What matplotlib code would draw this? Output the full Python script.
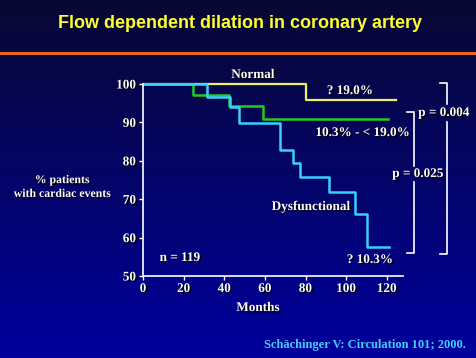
import numpy as np
import matplotlib
matplotlib.use("Agg")
import matplotlib.pyplot as plt
import matplotlib.patheffects as pe
from matplotlib.lines import Line2D

# Kaplan-Meier type curves (months, % event free)
normal_t = [0, 80, 124.6]
normal_s = [100, 95.8, 95.8]

mid_t = [0, 24.6, 42.4, 59, 120.7]
mid_s = [100, 97.1, 94.3, 90.9, 90.9]

dys_t = [0, 31.5, 43, 47.3, 67.5, 74, 77.3, 91.7, 104.4, 110.5, 121]
dys_s = [100, 96.6, 94.1, 89.8, 82.8, 79.5, 75.7, 71.9, 66.2, 57.6, 57.6]

x_ticks = [0, 20, 40, 60, 80, 100, 120]
y_ticks = [50, 60, 70, 80, 90, 100]

W, H = 477, 358
fig = plt.figure(figsize=(W / 100, H / 100), dpi=100)


def px(x, y):
    """pixel -> figure fraction"""
    return x / W, 1 - y / H


# background gradient
bg = fig.add_axes([0, 0, 1, 1])
grad = np.linspace(0, 1, 256).reshape(-1, 1)
top = np.array([0.03, 0.03, 0.2])
bot = np.array([0.0, 0.0, 0.62])
img = top + (bot - top) * grad[:, :, None]
bg.imshow(img, aspect="auto", extent=[0, 1, 0, 1])
bg.axis("off")

# orange rule under title
fig.add_artist(Line2D([0, 1], [1 - 53 / H] * 2, color="#e8641e", lw=2.2))

fig.text(*px(240, 24), "Flow dependent dilation in coronary artery",
         ha="center", va="center", color="#ffff33", fontsize=13,
         fontweight="bold", family="Liberation Sans")

shadow = [pe.withSimplePatchShadow(offset=(1, -1), shadow_rgbFace="black", alpha=0.9)]
serif = dict(family="Liberation Serif", fontweight="bold", color="white",
             path_effects=shadow)

ax = fig.add_axes([143 / W, 1 - 276 / H, 260 / W, 192 / H])
ax.set_facecolor("none")
ax.set_xlim(0, 128)
ax.set_ylim(50, 100)
for s in ["top", "right"]:
    ax.spines[s].set_visible(False)
for s in ["left", "bottom"]:
    ax.spines[s].set_color("white")
    ax.spines[s].set_linewidth(1.2)
ax.set_xticks(x_ticks)
ax.set_yticks(y_ticks)
ax.tick_params(colors="white", length=3, width=1, pad=2)
for lab in ax.get_xticklabels() + ax.get_yticklabels():
    lab.set_fontsize(9.5)
    lab.set_fontfamily("Liberation Serif")
    lab.set_fontweight("bold")
    lab.set_path_effects(shadow)

ax.step(normal_t, normal_s, where="post", color="#f0f060", lw=1.6, clip_on=False)
ax.step(mid_t, mid_s, where="post", color="#22cc22", lw=1.8, clip_on=False)
ax.step(dys_t, dys_s, where="post", color="#38d0ff", lw=1.8, clip_on=False)

fig.text(*px(253, 75), "Normal", ha="center", va="center", fontsize=9.5, **serif)
fig.text(*px(350, 91), "? 19.0%", ha="center", va="center", fontsize=9.5, **serif)
fig.text(*px(363, 133), "10.3% - < 19.0%", ha="center", va="center", fontsize=9.5, **serif)
fig.text(*px(311, 207), "Dysfunctional", ha="center", va="center", fontsize=9.5, **serif)
fig.text(*px(370, 260), "? 10.3%", ha="center", va="center", fontsize=9.5, **serif)
fig.text(*px(180, 258), "n = 119", ha="center", va="center", fontsize=9.5, **serif)
fig.text(*px(444, 113), "p = 0.004", ha="center", va="center", fontsize=9.5, **serif)
fig.text(*px(418, 174), "p = 0.025", ha="center", va="center", fontsize=9.5, **serif)
fig.text(*px(62, 187), "% patients\nwith cardiac events", ha="center", va="center",
         fontsize=8.5, linespacing=1.2, **serif)
fig.text(*px(258, 308), "Months", ha="center", va="center", fontsize=9.5, **serif)
fig.text(*px(466, 345), "Schächinger V: Circulation 101; 2000.", ha="right", va="center",
         fontsize=9, family="Liberation Serif", fontweight="bold", color="#44ccff")


# significance brackets, with a gap where the p-value label sits
def seg(xs, ys):
    fx = [px(a, 0)[0] for a in xs]
    fy = [px(0, b)[1] for b in ys]
    fig.add_artist(Line2D(fx, fy, color="white", lw=1.2))


def bracket(x, x_in, y0, y1, gap):
    seg([x_in, x, x], [y0, y0, gap[0]])
    seg([x, x, x_in], [gap[1], y1, y1])


bracket(447, 440, 83, 254, (104, 122))
bracket(414, 407, 112, 253, (166, 182))

fig.savefig("out.png", dpi=100)
